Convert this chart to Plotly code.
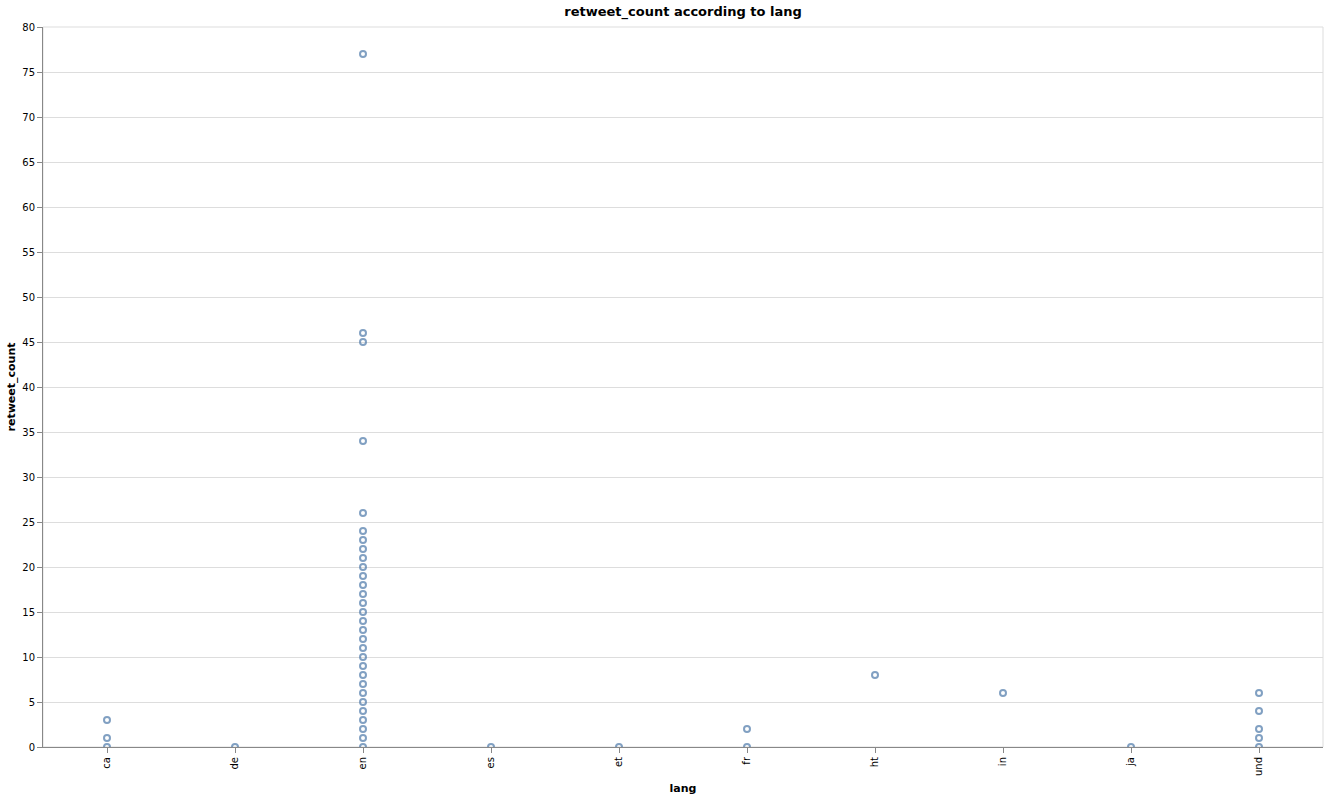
import plotly.graph_objects as go

categories = ["ca", "de", "en", "es", "et", "fr", "ht", "in", "ja", "und"]

lang_ca = [0, 1, 3]
lang_de = [0]
lang_en = [0, 1, 2, 3, 4, 5, 6, 7, 8, 9, 10, 11, 12, 13, 14, 15, 16, 17, 18, 19,
           20, 21, 22, 23, 24, 26, 34, 45, 46, 77]
lang_es = [0]
lang_et = [0]
lang_fr = [0, 2]
lang_ht = [8]
lang_in = [6]
lang_ja = [0]
lang_und = [0, 1, 2, 4, 6]

groups = [lang_ca, lang_de, lang_en, lang_es, lang_et, lang_fr, lang_ht, lang_in, lang_ja, lang_und]

xs, ys = [], []
for cat, vals in zip(categories, groups):
    for v in vals:
        xs.append(cat)
        ys.append(v)

y_ticks = list(range(0, 85, 5))

fig = go.Figure()
fig.add_trace(go.Scatter(
    x=xs, y=ys, mode="markers",
    marker=dict(symbol="circle-open", size=6, color="rgba(76,120,168,0.7)",
                line=dict(width=2, color="rgba(76,120,168,0.7)")),
    hoverinfo="x+y", showlegend=False,
))

fig.add_shape(type="rect", xref="paper", yref="paper", x0=0, y0=0, x1=1, y1=1,
              line=dict(color="#dddddd", width=1), layer="below")

fig.update_layout(
    width=1328, height=798, autosize=False,
    margin=dict(l=43, r=5, t=27, b=51, autoexpand=False),
    paper_bgcolor="white", plot_bgcolor="white",
    font=dict(family="DejaVu Sans", size=10, color="black"),
    title=dict(text="<b>retweet_count according to lang</b>", x=(43 + 1323) / 2 / 1328,
               xanchor="center", y=1 - 11 / 798, yanchor="middle",
               font=dict(size=13, family="DejaVu Sans", color="black")),
    xaxis=dict(
        type="category", categoryorder="array", categoryarray=categories,
        range=[-0.5, len(categories) - 0.5],
        showgrid=False, showline=True, linecolor="#888888", linewidth=1,
        ticks="outside", ticklen=5, tickcolor="#888888", tickangle=-90,
        tickfont=dict(size=10, family="DejaVu Sans"),
        title=dict(text="<b>lang</b>", font=dict(size=11, family="DejaVu Sans"), standoff=9),
        zeroline=False, automargin=False,
    ),
    yaxis=dict(
        range=[0, 80], tickvals=y_ticks, ticktext=[str(t) for t in y_ticks],
        showgrid=True, gridcolor="#dddddd", gridwidth=1,
        showline=True, linecolor="#888888", linewidth=1,
        ticks="outside", ticklen=5, tickcolor="#888888",
        tickfont=dict(size=10, family="DejaVu Sans"),
        title=dict(text="<b>retweet_count</b>", font=dict(size=11, family="DejaVu Sans"), standoff=4),
        zeroline=False, automargin=False,
    ),
)

fig.write_html("out.html", config={"displayModeBar": False},
               post_script="document.body.style.margin='0';document.body.style.overflow='hidden';")
